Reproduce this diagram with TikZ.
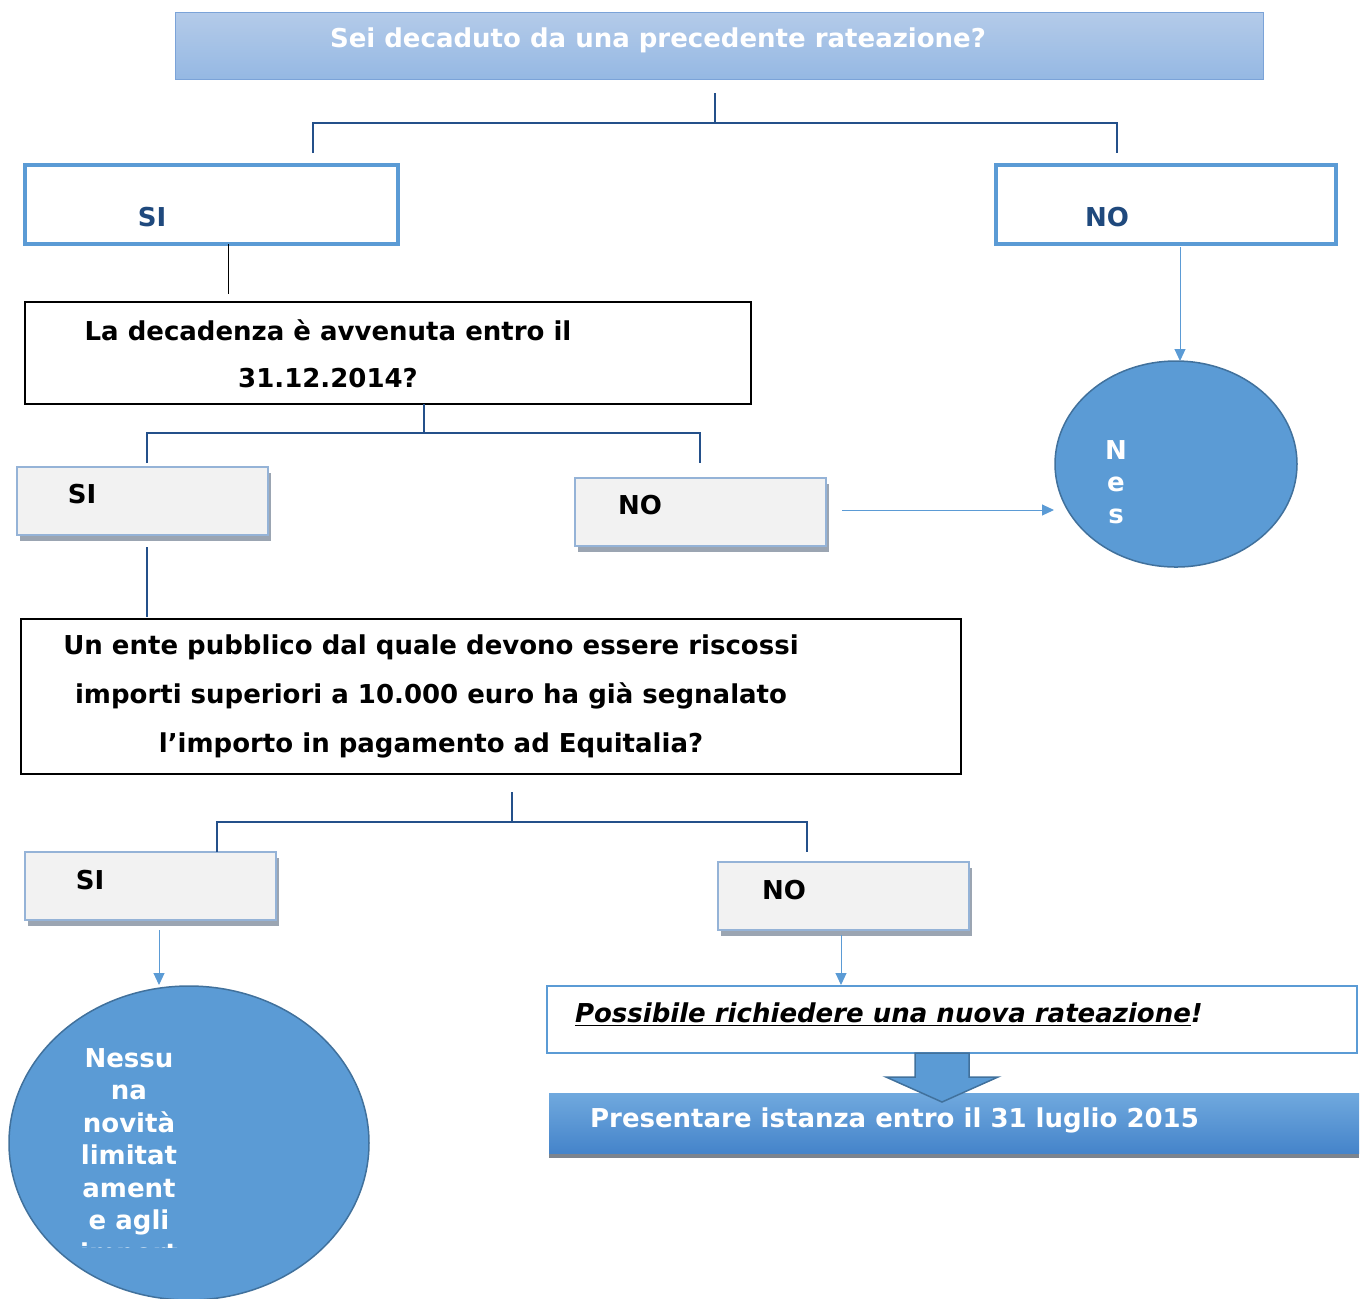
\documentclass[tikz,border=0pt]{standalone}
\usepackage{fontspec}
\setmainfont{DejaVu Sans}
\usetikzlibrary{arrows.meta,shadows,shapes.geometric}
\definecolor{accent}{HTML}{5B9BD5}
\definecolor{accentdark}{HTML}{41719C}
\definecolor{navy}{HTML}{24508A}
\definecolor{sinotext}{HTML}{1F497D}
\definecolor{greyfill}{HTML}{F2F2F2}
\definecolor{greyline}{HTML}{95B3D7}
\definecolor{shadowgrey}{HTML}{9BA5B2}
\definecolor{titletop}{HTML}{B4CBE9}
\definecolor{titlebot}{HTML}{95B8E3}
\definecolor{titleline}{HTML}{7BA3D8}
\definecolor{presenttop}{HTML}{70A9DE}
\definecolor{presentbot}{HTML}{4584CA}

\begin{document}
\begin{tikzpicture}[x=0.5pt,y=-0.5pt,
  font=\fontsize{13pt}{15pt}\selectfont\bfseries,
  every node/.style={inner sep=0pt,outer sep=0pt},
  txt/.style={align=center},
  bracket/.style={draw=navy,line width=1pt},
  arr/.style={draw=accent,line width=0.5pt,-{Triangle[length=6pt,width=5.5pt]}},
  answer/.style={draw=accent,line width=2pt,fill=white,minimum height=39.5pt},
  question/.style={draw=black,line width=0.75pt,fill=white},
  greybox/.style={draw=greyline,line width=1pt,fill=greyfill,
    minimum width=125.5pt,minimum height=34pt,
    drop shadow={shadow xshift=1.5pt,shadow yshift=-3pt,fill=shadowgrey,opacity=1}},
  result/.style={ellipse,draw=accentdark,line width=0.75pt,fill=accent}]
\useasboundingbox (0,0) rectangle (1364,1298);

% first question
\node[draw=titleline,line width=0.5pt,top color=titletop,bottom color=titlebot,
  minimum width=544pt,minimum height=33.5pt] (title) at (719,45.5) {};
\node[txt,text=white,anchor=base] (titletxt) at (658,47.5) {Sei decaduto da una precedente rateazione?};

\node[answer,minimum width=186.5pt] (si1) at (211.5,204.5) {};
\node[txt,text=sinotext,anchor=base] (si1txt) at (152,226.5) {SI};
\node[answer,minimum width=170pt] (no1) at (1166,204.5) {};
\node[txt,text=sinotext,anchor=base] (no1txt) at (1107,226.5) {NO};

\coordinate (t0) at (715,93);
\coordinate (tbar) at (715,123);
\coordinate (tl) at (313,153);
\coordinate (tr) at (1117,153);
\draw[bracket] (t0) -- (tbar) (tl) |- (tbar) -| (tr);

% second question
\node[question,minimum width=363pt,minimum height=51pt] (q1) at (388,353) {};
\node[txt,font=\fontsize{13pt}{23.5pt}\selectfont\bfseries] (q1txt) at (328,353.5)
  {La decadenza è avvenuta entro il\\31.12.2014?};
\coordinate (a1) at (228,294);
\draw[line width=0.5pt] (si1.south -| a1) -- (a1);

\node[result,minimum width=121pt,minimum height=103pt] (res1) at (1176,464) {};
\node[txt,text=white,font=\fontsize{13pt}{16pt}\selectfont\bfseries] (res1txt) at (1116,482) {N\\e\\s};
\draw[arr] ([xshift=7pt,yshift=-1.5pt]no1.south) -- ([xshift=2pt]res1.north);

\node[greybox] (si2) at (142.5,501) {};
\node[txt,anchor=base] (si2txt) at (82,503.5) {SI};
\node[greybox] (no2) at (700.5,512) {};
\node[txt,anchor=base] (no2txt) at (640,514.5) {NO};

\coordinate (m0) at (424,404);
\coordinate (mbar) at (424,433);
\coordinate (ml) at (147,463);
\coordinate (mr) at (700,463);
\draw[bracket] (m0) -- (mbar) (ml) |- (mbar) -| (mr);

\coordinate (r1in) at (1054,510);
\draw[arr] ([xshift=8pt,yshift=1pt]no2.east) -- (r1in);

% third question
\node[question,minimum width=470pt,minimum height=77.5pt] (q2) at (491,696.5) {};
\node[txt,font=\fontsize{13pt}{24.5pt}\selectfont\bfseries] (q2txt) at (431,696)
  {Un ente pubblico dal quale devono essere riscossi\\importi superiori a 10.000 euro ha già segnalato\\l’importo in pagamento ad Equitalia?};
\coordinate (b1) at (147,617);
\draw[bracket] ([yshift=-6pt]si2.south -| b1) -- (b1);

\node[greybox] (si3) at (150.5,886) {};
\node[txt,anchor=base] (si3txt) at (90,889.5) {SI};
\node[greybox] (no3) at (843.5,896) {};
\node[txt,anchor=base] (no3txt) at (784,899.5) {NO};

\coordinate (n0) at (512,792);
\coordinate (nbar) at (512,822);
\coordinate (nl) at (217,852);
\coordinate (nr) at (807,852);
\draw[bracket] (n0) -- (nbar) (nl) |- (nbar) -| (nr);

% outcomes
\node[result,minimum width=180pt,minimum height=157pt] (res2) at (189,1143) {};
\begin{scope}
\clip (0,1000) rectangle (400,1247);
\node[txt,text=white,font=\fontsize{13pt}{16.25pt}\selectfont\bfseries] (res2txt) at (129,1158)
  {Nessu\\na\\novità\\limitat\\ament\\e agli\\import};
\end{scope}
\coordinate (c1) at (159,985);
\draw[arr] ([yshift=-5pt]si3.south -| c1) -- (c1);

\node[draw=accent,line width=1.25pt,fill=white,minimum width=405pt,minimum height=33.5pt] (ok) at (952,1019.5) {};
\node[txt,anchor=base west] (oktxt) at (575,1022.5) {\itshape\underline{Possibile richiedere una nuova rateazione}!};
\coordinate (c2) at (841,985);
\draw[arr] ([yshift=-2.5pt]no3.south -| c2) -- (c2);

\node[top color=presenttop,bottom color=presentbot,minimum width=405pt,minimum height=30pt,
  drop shadow={shadow xshift=0pt,shadow yshift=-2.5pt,fill=shadowgrey!80!black,opacity=1}] (present) at (954,1123) {};
\node[txt,text=white,anchor=base] (presenttxt) at (894.5,1127.5) {Presentare istanza entro il 31 luglio 2015};

% block arrow
\draw[fill=accent,draw=accentdark,line width=0.75pt]
  ([xshift=-18.5pt]ok.south) -- ++(0,-12pt) -- ++(-14.5pt,0) -- ++(28pt,-12.5pt)
  -- ++(28pt,12.5pt) -- ++(-14.5pt,0) -- ++(0,12pt) -- cycle;
\end{tikzpicture}
\end{document}
